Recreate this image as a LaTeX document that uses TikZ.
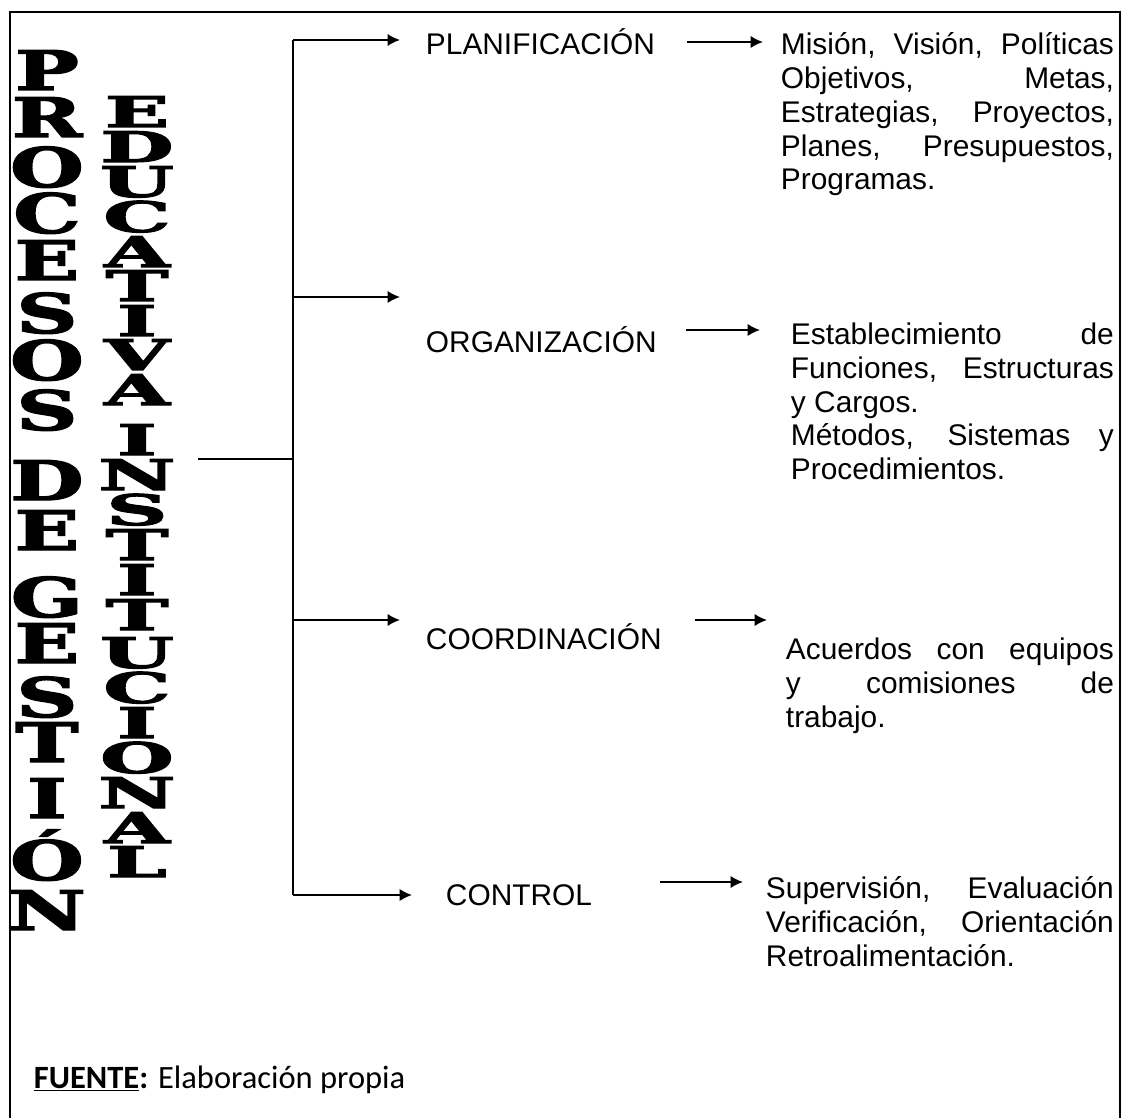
\documentclass[tikz,border=0pt]{standalone}
\usepackage{fontspec}
\setmainfont{Liberation Sans}
\newfontfamily\stackfont{DejaVu Serif}[BoldFont={DejaVu Serif Bold}, BoldFeatures={FakeBold=2.5}]
\newfontfamily\notefont{Carlito}
\usetikzlibrary{arrows.meta}

\begin{document}
\begin{tikzpicture}[
  x=0.02cm, y=-0.02cm,
  line width=1.1pt,
  bigl/.style={inner sep=0, anchor=base, font=\stackfont\bfseries\fontsize{31}{31}\selectfont},
  smalll/.style={inner sep=0, anchor=base, font=\stackfont\bfseries\fontsize{24}{24}\selectfont},
  stage/.style={inner sep=0, anchor=west, font=\fontsize{17}{19.2}\selectfont},
  detail/.style={inner sep=0, anchor=north west, align=justify, font=\fontsize{17}{19.2}\selectfont},
  arr/.style={-{Latex[length=0.25cm,width=0.25cm]}}
  ]

   \useasboundingbox (0,0) rectangle (1122,1118);

   % marco
   \draw (10,1118) |- (1120,12) -- (1120,1118);

   % titulo en columnas
   \foreach \l/\b [count=\i] in {P/90,R/137,O/187,C/233,E/280,S/333,O/380,S/430,
       D/500,E/550,G/617,E/663,S/717,T/762,I/818,Ó/880,N/930}
     \node[bigl] (pg\i) at (47,\b) {\scalebox{1.55}[1]{\l}};
   \foreach \l/\b [count=\i] in {E/127,D/162,U/197,C/232,A/267,T/301,I/336,V/370,A/405,
       I/455,N/490,S/525,T/560,I/595,T/630,U/668,C/703,I/738,O/773,N/808,A/843,L/877}
     \node[smalll] (ei\i) at (137,\b) {\scalebox{2}[1]{\l}};

   % llave
   \coordinate (stem) at (198,459);
   \coordinate (hub) at (293,459);
   \coordinate (b1) at (293,40);
   \coordinate (b2) at (293,297);
   \coordinate (b3) at (293,620);
   \coordinate (b4) at (293,895);
   \coordinate (e1) at (400,40);
   \coordinate (e2) at (400,297);
   \coordinate (e3) at (400,620);
   \coordinate (e4) at (412,895);
   \draw (stem) -- (hub);
   \draw (b1) -- (b4);
   \foreach \k in {1,...,4}
     \draw [arr] (b\k) -- (e\k);

   % procesos
   \node (plan) [stage] at (425,42) {PLANIFICACIÓN};
   \node (org) [stage] at (425,340) {ORGANIZACIÓN};
   \node (coord) [stage] at (425,637) {COORDINACIÓN};
   \node (ctrl) [stage] at (445,895) {CONTROL};

   \node (plantx) [detail, text width=6.66cm] at (780,32)
     {Misión, Visión, Políticas\linebreak Objetivos, Metas,\linebreak Estrategias, Proyectos,\linebreak Planes, Presupuestos,\linebreak Programas.};
   \node (orgtx) [detail, text width=6.46cm] at (790,322)
     {Establecimiento de\linebreak Funciones, Estructuras\linebreak y Cargos.\\ Métodos, Sistemas y\linebreak Procedimientos.};
   \node (coordtx) [detail, text width=6.56cm] at (785,637)
     {Acuerdos con equipos\linebreak y comisiones de\linebreak trabajo.};
   \node (ctrltx) [detail, text width=6.96cm] at (765,876)
     {Supervisión, Evaluación\linebreak Verificación, Orientación\linebreak Retroalimentación.};

   \draw [arr] ([xshift=6.2mm]plan.east) -- ([xshift=-3.4mm]plan.east -| plantx.west);
   \draw [arr] ([xshift=5.6mm,yshift=2mm]org.east) -- ([xshift=-6mm,yshift=2mm]org.east -| orgtx.west);
   \draw [arr] ([xshift=6.4mm,yshift=3.4mm]coord.east) -- ([xshift=-3.6mm,yshift=3.4mm]coord.east -| coordtx.west);
   \draw [arr] ([xshift=13.4mm,yshift=2.6mm]ctrl.east) -- ([xshift=-4.4mm,yshift=2.6mm]ctrl.east -| ctrltx.west);

   \node (src) [anchor=base west, inner sep=0, font=\notefont\fontsize{18.5}{18.5}\selectfont] at (33,1088)
     {\textbf{\underline{FUENTE}:} Elaboración propia};

\end{tikzpicture}
\end{document}
